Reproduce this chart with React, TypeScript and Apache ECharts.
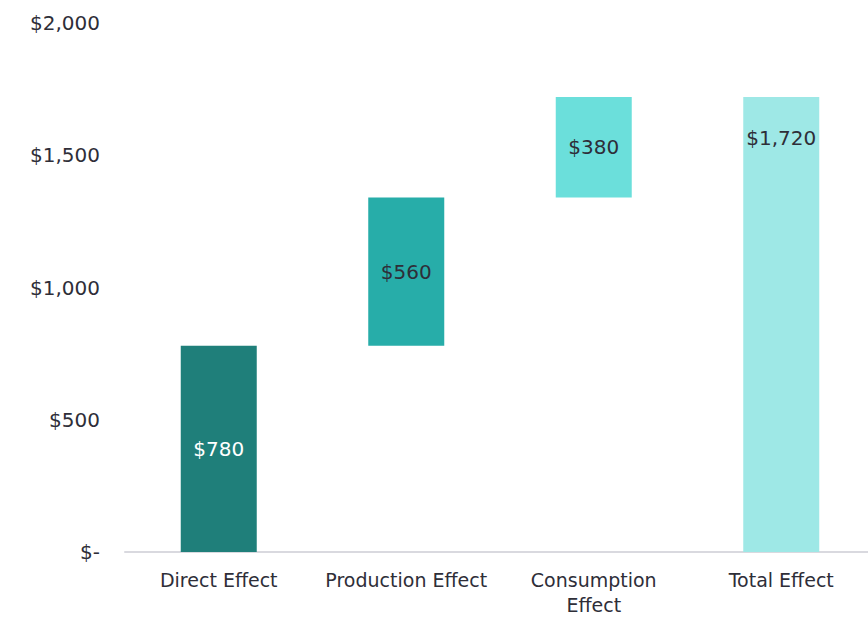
import React, { useEffect, useRef } from "react";
import * as echarts from "echarts";

const categories = ["Direct Effect", "Production Effect", "Consumption\nEffect", "Total Effect"];
const baseValues = [0, 780, 1340, 0];
const deltaValues = [780, 560, 380, 1720];
const barColors = ["#1F7F7A", "#27ADA9", "#6BDFDB", "#9EE8E6"];
const labelColors = ["#FFFFFF", "#2E2E38", "#2E2E38", "#2E2E38"];
const yTicks = { min: 0, max: 2000, interval: 500 };

const FONT = "'DejaVu Sans', sans-serif";

export default function App() {
  const ref = useRef<HTMLDivElement>(null);
  useEffect(() => {
    const chart = echarts.init(ref.current!, null, { renderer: "svg" });
    chart.setOption({
      animation: false,
      grid: { left: 125, right: 0, top: 23, bottom: 62 },
      xAxis: {
        type: "category",
        data: categories,
        axisLine: { lineStyle: { color: "#D9D9DF", width: 2 } },
        axisTick: { show: false },
        axisLabel: {
          interval: 0,
          color: "#2E2E38",
          fontSize: 19,
          fontFamily: FONT,
          margin: 15,
          lineHeight: 25,
        },
      },
      yAxis: {
        type: "value",
        min: yTicks.min,
        max: yTicks.max,
        interval: yTicks.interval,
        splitLine: { show: false },
        axisLine: { show: false },
        axisTick: { show: false },
        axisLabel: {
          color: "#2E2E38",
          fontSize: 20,
          fontFamily: FONT,
          margin: 25,
          formatter: (v: number) => (v === 0 ? "$-" : "$" + v.toLocaleString("en-US")),
        },
      },
      series: [
        {
          type: "bar",
          stack: "w",
          data: baseValues,
          itemStyle: { color: "transparent" },
          barWidth: 76,
          silent: true,
        },
        {
          type: "bar",
          stack: "w",
          barWidth: 76,
          data: deltaValues.map((v, i) => ({
            value: v,
            itemStyle: { color: barColors[i] },
            label: {
              show: true,
              position: i === 3 ? "insideTop" : "inside",
              distance: 31,
              color: labelColors[i],
              fontSize: 20,
              fontFamily: FONT,
              formatter: () => "$" + v.toLocaleString("en-US"),
            },
          })),
        },
      ],
    });
    return () => chart.dispose();
  }, []);
  return (
    <div style={{ position: "absolute", left: 0, top: 0, width: 868, height: 617, overflow: "hidden", background: "#fff" }}>
      <div ref={ref} style={{ width: 875, height: 617 }} />
    </div>
  );
}
